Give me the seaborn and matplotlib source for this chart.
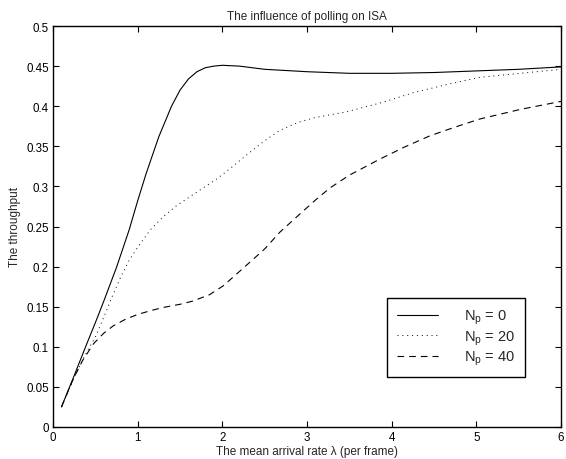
import numpy as np
import pandas as pd
import matplotlib
matplotlib.use("Agg")
import matplotlib.pyplot as plt
import seaborn as sns

# ---- data ----
x_np0 = [0.1, 0.25, 0.4, 0.5, 0.6, 0.75, 0.9, 1.0, 1.1, 1.25, 1.4, 1.5, 1.6,
         1.7, 1.8, 1.9, 2.0, 2.2, 2.5, 3.0, 3.5, 4.0, 4.5, 5.0, 5.5, 6.0]
y_np0 = [0.025, 0.064, 0.104, 0.130, 0.157, 0.199, 0.246, 0.282, 0.316, 0.362,
         0.400, 0.420, 0.434, 0.443, 0.448, 0.450, 0.451, 0.450, 0.446, 0.443,
         0.441, 0.441, 0.442, 0.444, 0.446, 0.449]

x_np20 = [0.1, 0.25, 0.4, 0.5, 0.6, 0.7, 0.8, 0.9, 1.0, 1.15, 1.3, 1.46, 1.7,
          1.93, 2.1, 2.32, 2.5, 2.68, 2.9, 3.1, 3.47, 3.9, 4.26, 4.65, 5.04,
          5.52, 6.0]
y_np20 = [0.025, 0.062, 0.094, 0.112, 0.137, 0.163, 0.187, 0.208, 0.224, 0.246,
          0.262, 0.276, 0.293, 0.309, 0.323, 0.342, 0.357, 0.370, 0.380, 0.386,
          0.393, 0.405, 0.417, 0.427, 0.436, 0.441, 0.446]

x_np40 = [0.1, 0.24, 0.35, 0.48, 0.6, 0.71, 0.85, 0.99, 1.15, 1.3, 1.5, 1.65,
          1.85, 2.01, 2.15, 2.32, 2.5, 2.68, 2.91, 3.1, 3.27, 3.5, 3.86, 4.15,
          4.45, 4.75, 5.04, 5.52, 6.0]
y_np40 = [0.025, 0.060, 0.083, 0.104, 0.117, 0.126, 0.134, 0.140, 0.145, 0.149,
          0.153, 0.157, 0.165, 0.176, 0.189, 0.205, 0.222, 0.243, 0.265, 0.283,
          0.298, 0.314, 0.334, 0.349, 0.363, 0.374, 0.384, 0.396, 0.406]

labels = [r"N$_{\rm p}$ = 0", r"N$_{\rm p}$ = 20", r"N$_{\rm p}$ = 40"]
x_ticks = [0, 1, 2, 3, 4, 5, 6]
y_ticks = [0, 0.05, 0.1, 0.15, 0.2, 0.25, 0.3, 0.35, 0.4, 0.45, 0.5]
y_ticklabels = ["0", "0.05", "0.1", "0.15", "0.2", "0.25", "0.3", "0.35",
                "0.4", "0.45", "0.5"]

sns.set_theme(style="ticks")
plt.rcParams["font.family"] = ["Liberation Sans", "DejaVu Sans"]
plt.rcParams["mathtext.fontset"] = "custom"
plt.rcParams["mathtext.rm"] = "Liberation Sans"
plt.rcParams["mathtext.it"] = "Liberation Sans:italic"

fig = plt.figure(figsize=(5.66, 4.60), dpi=100)
ax = fig.add_axes([53 / 566, 1 - 428 / 460, (561 - 53) / 566, (428 - 27) / 460])

sns.lineplot(x=x_np0, y=y_np0, ax=ax, color="black", linewidth=0.8,
             linestyle="-", label=labels[0], sort=False)
sns.lineplot(x=x_np20, y=y_np20, ax=ax, color="black", linewidth=0.7,
             linestyle=(0, (1, 4)), label=labels[1], sort=False)
sns.lineplot(x=x_np40, y=y_np40, ax=ax, color="black", linewidth=0.8,
             linestyle=(0, (6, 4.5)), label=labels[2], sort=False)

ax.set_xlim(0, 6)
ax.set_ylim(0, 0.5)
ax.set_xticks(x_ticks)
ax.set_xticklabels([str(t) for t in x_ticks])
ax.set_yticks(y_ticks)
ax.set_yticklabels(y_ticklabels)
ax.tick_params(direction="in", top=True, right=True, length=4, width=0.8,
               labelsize=8.3, colors="black", pad=3)
for s in ax.spines.values():
    s.set_visible(True)
    s.set_linewidth(1.0)
    s.set_color("black")

ax.set_title("The influence of polling on ISA", fontsize=8.5, pad=5)
ax.set_xlabel(r"The mean arrival rate λ (per frame)", fontsize=8.5, labelpad=1)
ax.set_ylabel("The throughput", fontsize=8.5, labelpad=4)

leg = ax.legend(loc="lower left", bbox_to_anchor=(0.657, 0.124), fontsize=10.5,
                frameon=True, fancybox=False, framealpha=1, edgecolor="black",
                handlelength=2.8, handletextpad=1.8, borderpad=0.7,
                labelspacing=0.15, borderaxespad=0)
leg.get_frame().set_linewidth(1.0)

fig.savefig("out.png", dpi=100, facecolor="white")
